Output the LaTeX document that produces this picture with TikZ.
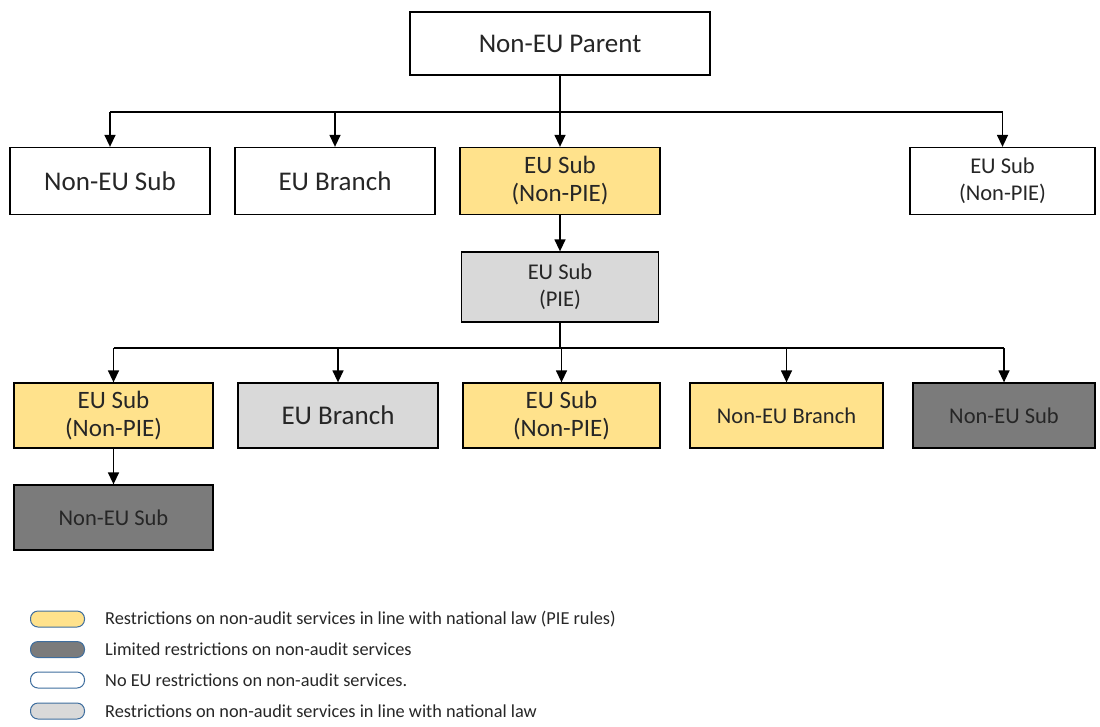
\documentclass[tikz,border=0pt]{standalone}
\usepackage{fontspec}
\setmainfont{Carlito}
\usetikzlibrary{arrows.meta}
\definecolor{pieyellow}{HTML}{FFE28C}
\definecolor{lightgrey}{HTML}{D9D9D9}
\definecolor{darkgrey}{HTML}{7B7B7B}
\definecolor{keyblue}{HTML}{3F6E9E}
\definecolor{textgray}{HTML}{262626}
\tikzset{
  ent/.style={rectangle, draw=black, line width=1.3pt, fill=white, text=textgray,
    font=\fontsize{27}{30}\selectfont, minimum width=200pt, minimum height=67pt,
    align=center, inner sep=0pt},
  ent/pie/.style={ent, fill=pieyellow},
  ent/nat/.style={ent, fill=lightgrey},
  ent/ltd/.style={ent, fill=darkgrey},
  sm/.style={font=\fontsize{25}{28}\selectfont},
  xs/.style={font=\fontsize{22.5}{27}\selectfont},
  ar/.style={-{Triangle[width=11pt,length=12pt]}, line width=1.4pt},
  bus/.style={line width=1.4pt},
  key/.style={rectangle, rounded corners=7.5pt, draw=keyblue, line width=1pt,
    minimum width=54pt, minimum height=16pt, inner sep=0pt},
  keytxt/.style={anchor=west, text=textgray, font=\fontsize{18.3}{21}\selectfont, inner sep=0pt},
}

\begin{document}
\begin{tikzpicture}[x=1pt, y=-1pt]
\useasboundingbox (0,0) rectangle (1100,726);

% top level
\node[ent, minimum width=300pt, minimum height=63pt] (P) at (560,43.5) {Non-EU Parent};

\node[ent] (A1) at (110,181) {Non-EU Sub};
\node[ent] (A2) at (335,181) {EU Branch};
\node[ent/pie, sm] (A3) at (560,181) {EU Sub\\(Non-PIE)};
\node[ent, xs, minimum width=185pt] (A4) at (1002.5,181) {EU Sub\\(Non-PIE)};

\node[ent/nat, xs, minimum width=197pt, minimum height=70pt] (B) at (560,287) {EU Sub\\(PIE)};

% below the PIE
\node[ent/pie, sm, minimum width=199pt, minimum height=65pt] (C1) at (113.5,415.5) {EU Sub\\(Non-PIE)};
\node[ent/nat, minimum height=65pt] (C2) at (338,415.5) {EU Branch};
\node[ent/pie, sm, minimum width=197pt, minimum height=65pt] (C3) at (561.5,415.5) {EU Sub\\(Non-PIE)};
\node[ent/pie, xs, minimum width=193pt, minimum height=65pt] (C4) at (786.5,415.5) {Non-EU Branch};
\node[ent/ltd, xs, minimum width=182pt, minimum height=65pt] (C5) at (1004,415.5) {Non-EU Sub};

\node[ent/ltd, xs, minimum width=199pt, minimum height=65pt] (D) at (113.5,517.5) {Non-EU Sub};

% connectors
\coordinate (busA) at (560,112);
\coordinate (busC) at (560,348);

\draw[bus] (P.south) -- (busA);
\draw[bus] (busA -| A1.north) -- (busA -| A4.north);
\foreach \n in {A1,A2,A3,A4}
  \draw[ar] (busA -| \n.north) -- (\n.north);

\draw[ar] (A3.south) -- (B.north);

\draw[bus] (B.south) -- (busC);
\draw[bus] (busC -| C1.north) -- (busC -| C5.north);
\foreach \n in {C1,C2,C3,C4,C5}
  \draw[ar] (busC -| \n.north) -- (\n.north);

\draw[ar] (C1.south) -- (D.north);

% legend
\node[key, fill=pieyellow] (K1) at (57.5,619) {};
\node[key, fill=darkgrey]  (K2) at (57.5,649.5) {};
\node[key, fill=white]     (K3) at (57.5,680) {};
\node[key, fill=lightgrey] (K4) at (57.5,711) {};
\node[keytxt] (T1) at (105,619) {Restrictions on non-audit services in line with national law (PIE rules)};
\node[keytxt] (T2) at (105,649.5) {Limited restrictions on non-audit services};
\node[keytxt] (T3) at (105,680) {No EU restrictions on non-audit services.};
\node[keytxt] (T4) at (105,711) {Restrictions on non-audit services in line with national law};
\end{tikzpicture}
\end{document}
